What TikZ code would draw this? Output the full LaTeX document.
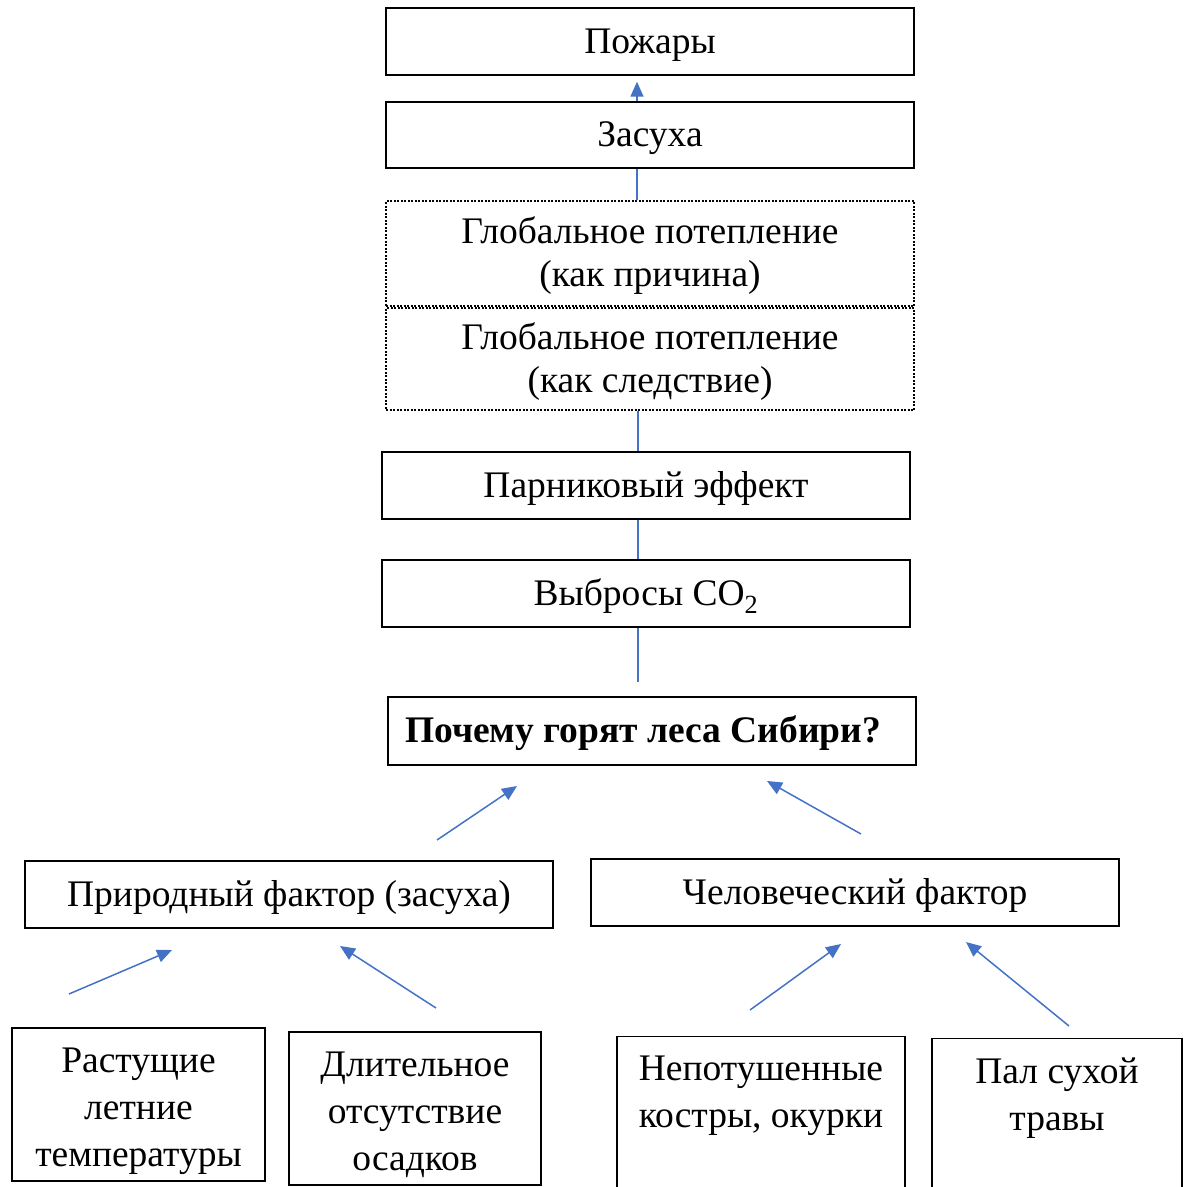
\documentclass[tikz,border=0pt]{standalone}
\usepackage{fontspec}
\setmainfont{Liberation Serif}
\usetikzlibrary{arrows.meta,calc}
\definecolor{arr}{RGB}{68,114,196}
\newcommand\mystrut{\rule{0pt}{0.85em}}
\newcommand\lowstrut{\rule{0pt}{1.0em}}
\begin{document}
\begin{tikzpicture}[x=1pt,y=-1pt,
 box/.style={draw=black, line width=1.4pt, minimum width=528pt, minimum height=67pt, inner sep=0pt, font=\fontsize{37.5}{43}\selectfont, align=center},
 dbox/.style={box, line width=1.3pt, dash pattern=on 2pt off 1.5pt},
 lowbox/.style={draw=black, line width=1.4pt, inner sep=0pt},
 lowtext/.style={inner sep=0pt, font=\fontsize{37.5}{47}\selectfont, align=center},
 conn/.style={draw=arr, line width=1.5pt},
 arrow/.style={conn, -{Triangle[length=15pt,width=13pt]}},
]
\useasboundingbox (0,0) rectangle (1184,1187);
\node[box] (poz) at (650,41.5) {\mystrut Пожары};
\node[box, minimum height=66pt] (zas) at (650,135) {\mystrut Засуха};
\node[dbox, minimum height=105pt] (gc) at (650,253.5) {\mystrut Глобальное потепление\\(как причина)};
\node[dbox, minimum height=102pt] (ge) at (650,359) {\mystrut Глобальное потепление\\(как следствие)};
\node[box] (par) at (646,485.5) {\mystrut Парниковый эффект};
\node[box] (co) at (646,593.5) {\mystrut Выбросы CO\textsubscript{2}};
\node[box, minimum height=68pt, font=\fontsize{37.5}{43}\selectfont\bfseries] (q) at (652,731) {\mystrut Почему горят леса Сибири?\hspace*{18pt}};
\node[box] (nat) at (289,894.5) {\mystrut Природный фактор (засуха)};
\node[box] (hum) at (855,892.5) {\mystrut Человеческий фактор};
\node[lowbox, minimum width=253pt, minimum height=153pt] (r1) at (138.5,1104.5) {};
\node[lowtext] (r1t) at (r1.center) {\lowstrut Растущие\\летние\\температуры};
\node[lowbox, minimum width=252pt, minimum height=153pt] (r2) at (415,1108.5) {};
\node[lowtext] (r2t) at (r2.center) {\lowstrut Длительное\\отсутствие\\осадков};
\node[lowbox, minimum width=288pt, minimum height=170pt, anchor=north] (r3) at (761,1036) {};
\node[lowtext, anchor=north] (r3t) at ($(r3.north)+(0,20)$) {Непотушенные\\костры, окурки};
\node[lowbox, minimum width=250pt, minimum height=170pt, anchor=north] (r4) at (1057,1038) {};
\node[lowtext, anchor=north] (r4t) at ($(r4.north)+(0,20)$) {Пал сухой\\травы};
% vertical connectors
\draw[arrow] ($(zas.north)+(-13,0)$) -- ($(poz.south)+(-13,6)$);
\draw[conn] ($(zas.south)+(-13,0)$) -- ($(gc.north)+(-13,0)$);
\draw[conn] ($(ge.south)+(-12,0)$) -- ($(par.north)+(-8,0)$);
\draw[conn] ($(par.south)+(-8,0)$) -- ($(co.north)+(-8,0)$);
\coordinate (coend) at (638,682);
\draw[conn] ($(co.south)+(-8,0)$) -- (coend);
% slanted arrows
\coordinate (a1s) at (437,840); \coordinate (a1e) at (517,786);
\coordinate (a2s) at (861,834); \coordinate (a2e) at (767,781);
\coordinate (a3s) at (69,994);  \coordinate (a3e) at (172,950);
\coordinate (a4s) at (436,1008); \coordinate (a4e) at (340,946);
\coordinate (a5s) at (750,1010); \coordinate (a5e) at (841,944);
\coordinate (a6s) at (1069,1026); \coordinate (a6e) at (966,942);
\draw[arrow] (a1s) -- (a1e);
\draw[arrow] (a2s) -- (a2e);
\draw[arrow] (a3s) -- (a3e);
\draw[arrow] (a4s) -- (a4e);
\draw[arrow] (a5s) -- (a5e);
\draw[arrow] (a6s) -- (a6e);
\end{tikzpicture}
\end{document}
